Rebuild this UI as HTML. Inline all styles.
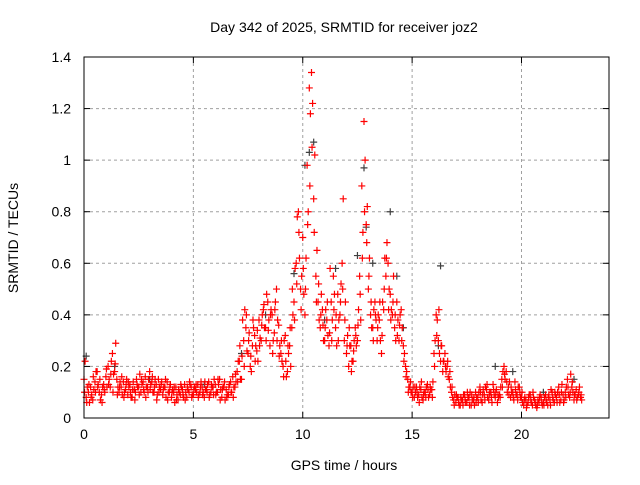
<!DOCTYPE html>
<html><head><meta charset="utf-8"><style>
body{margin:0;background:#fff;font-family:"Liberation Sans",sans-serif;}
svg text{font-family:"Liberation Sans",sans-serif;font-size:14px;fill:#000;}
</style></head><body>
<svg id="c" width="640" height="480">
<rect width="640" height="480" fill="#fff"/>
<text x="344" y="32" text-anchor="middle">Day 342 of 2025, SRMTID for receiver joz2</text>
<text x="344" y="470" text-anchor="middle">GPS time / hours</text>
<text transform="translate(18,238) rotate(-90)" text-anchor="middle">SRMTID / TECUs</text>
<g id="grid"></g><g id="marks"></g><g id="axes"></g>
</svg>
<script>
const xTicks=[0,5,10,15,20];
const yTicks=[0,0.2,0.4,0.6,0.8,1,1.2,1.4];
const yTickLabels=["0","0.2","0.4","0.6","0.8","1","1.2","1.4"];
const xStart=0, xStep=0.1;
const redA=[0.15,0.08,0.10,0.12,0.07,0.14,0.18,0.10,0.09,0.13,
0.16,0.20,0.12,0.25,0.18,0.15,0.10,0.12,0.14,0.11,
0.09,0.13,0.08,0.11,0.15,0.12,0.10,0.14,0.16,0.12,
0.18,0.14,0.10,0.13,0.15,0.11,0.09,0.12,0.14,0.10,
0.08,0.10,0.12,0.07,0.09,0.11,0.13,0.08,0.10,0.12,
0.09,0.11,0.13,0.10,0.12,0.08,0.11,0.14,0.10,0.12,
0.13,0.10,0.15,0.08,0.12,0.11,0.09,0.14,0.16,0.12,
0.18,0.22,0.15,0.30,0.35,0.25,0.20,0.28,0.32,0.26,
0.38,0.30,0.42,0.35,0.45,0.28,0.40,0.33,0.50,0.36,
0.25,0.20,0.32,0.18,0.28,0.35,0.45,0.60,0.80,0.50,
0.70,0.40,0.98,1.28,1.34,0.85,0.55,0.45,0.35,0.42,
0.30,0.38,0.28,0.45,0.55,0.35,0.48,0.40,0.60,0.30,
0.25,0.20,0.28,0.22,0.35,0.30,0.55,0.90,1.15,0.75,
0.50,0.40,0.35,0.45,0.30,0.38,0.25,0.42,0.55,0.60,
0.48,0.40,0.35,0.45,0.30,0.42,0.28,0.20,0.15,0.12,
0.10,0.08,0.12,0.09,0.11,0.07,0.10,0.13,0.09,0.11,
0.25,0.40,0.30,0.22,0.18,0.25,0.20,0.15,0.10,0.07,
0.06,0.08,0.05,0.07,0.09,0.06,0.08,0.05,0.07,0.10,
0.08,0.12,0.06,0.09,0.11,0.07,0.10,0.13,0.08,0.06,
0.09,0.15,0.20,0.18,0.12,0.08,0.10,0.14,0.09,0.12,
0.08,0.05,0.07,0.06,0.09,0.05,0.07,0.04,0.06,0.08,
0.06,0.09,0.05,0.07,0.10,0.06,0.08,0.12,0.07,0.09,
0.10,0.15,0.08,0.12,0.07,0.11,0.09,0.08];
const redB=[0.22,0.12,0.06,0.09,0.11,0.18,0.13,0.07,0.12,0.10,
0.12,0.15,0.22,0.17,0.29,0.12,0.14,0.09,0.10,0.15,
0.12,0.08,0.14,0.10,0.12,0.17,0.13,0.10,0.12,0.15,
0.13,0.10,0.15,0.09,0.12,0.14,0.12,0.08,0.10,0.13,
0.11,0.06,0.09,0.10,0.12,0.08,0.10,0.11,0.13,0.09,
0.12,0.10,0.09,0.14,0.10,0.11,0.13,0.09,0.12,0.15,
0.10,0.13,0.11,0.12,0.07,0.09,0.13,0.10,0.12,0.14,
0.22,0.15,0.38,0.42,0.26,0.33,0.18,0.35,0.28,0.22,
0.31,0.40,0.35,0.48,0.38,0.42,0.30,0.45,0.38,0.28,
0.22,0.30,0.16,0.25,0.20,0.40,0.58,0.78,0.62,0.55,
0.48,0.62,0.80,1.18,1.22,1.02,0.65,0.38,0.48,0.30,
0.42,0.32,0.58,0.38,0.48,0.28,0.38,0.52,0.85,0.45,
0.32,0.28,0.22,0.30,0.28,0.42,0.38,0.72,1.00,0.82,
0.62,0.35,0.42,0.38,0.40,0.30,0.45,0.62,0.68,0.50,
0.42,0.55,0.30,0.38,0.40,0.35,0.25,0.18,0.12,0.10,
0.12,0.10,0.08,0.12,0.08,0.10,0.12,0.08,0.11,0.14,
0.30,0.38,0.25,0.28,0.22,0.18,0.16,0.12,0.08,0.09,
0.08,0.05,0.07,0.09,0.06,0.08,0.10,0.07,0.05,0.08,
0.10,0.07,0.11,0.12,0.08,0.10,0.06,0.09,0.11,0.08,
0.12,0.18,0.15,0.10,0.14,0.10,0.07,0.09,0.12,0.08,
0.06,0.08,0.05,0.09,0.06,0.08,0.05,0.07,0.09,0.05,
0.08,0.06,0.09,0.11,0.07,0.09,0.10,0.06,0.13,0.07,
0.12,0.09,0.17,0.10,0.09,0.08,0.12,0.07];
const redC=[0.10,0.06,0.13,0.08,0.16,0.10,0.12,0.15,0.06,0.11,
0.19,0.13,0.17,0.10,0.21,0.09,0.12,0.16,0.08,0.13,
0.14,0.10,0.11,0.07,0.13,0.09,0.15,0.11,0.08,0.10,
0.11,0.16,0.12,0.07,0.10,0.13,0.11,0.15,0.07,0.12,
0.10,0.12,0.07,0.11,0.13,0.09,0.07,0.12,0.14,0.08,
0.11,0.13,0.08,0.12,0.09,0.14,0.10,0.08,0.13,0.09,
0.09,0.15,0.07,0.11,0.14,0.08,0.12,0.10,0.08,0.17,
0.14,0.28,0.24,0.20,0.40,0.30,0.24,0.38,0.22,0.34,
0.28,0.36,0.44,0.30,0.34,0.40,0.25,0.42,0.30,0.24,
0.30,0.16,0.22,0.28,0.35,0.50,0.38,0.52,0.72,0.42,
0.58,0.50,0.75,0.90,1.05,0.72,0.45,0.52,0.40,0.36,
0.35,0.45,0.33,0.30,0.42,0.40,0.30,0.45,0.50,0.38,
0.28,0.35,0.18,0.26,0.32,0.36,0.48,0.62,0.80,0.68,
0.55,0.45,0.30,0.40,0.35,0.45,0.32,0.50,0.62,0.42,
0.38,0.45,0.40,0.32,0.36,0.30,0.22,0.16,0.10,0.14,
0.08,0.12,0.10,0.06,0.14,0.09,0.08,0.11,0.12,0.08,
0.20,0.32,0.42,0.28,0.22,0.20,0.22,0.18,0.12,0.05,
0.09,0.06,0.08,0.05,0.07,0.10,0.05,0.09,0.08,0.06,
0.06,0.10,0.09,0.07,0.13,0.09,0.08,0.11,0.10,0.09,
0.08,0.12,0.17,0.14,0.09,0.12,0.08,0.11,0.07,0.10,
0.10,0.07,0.04,0.08,0.07,0.10,0.06,0.05,0.08,0.06,
0.05,0.07,0.08,0.05,0.08,0.10,0.06,0.09,0.10,0.06,
0.08,0.12,0.10,0.14,0.09,0.07,0.10,0.09];
const grayX=[0.1,1.4,3.0,5.5,7.2,8.3,9.6,10.1,10.3,10.5,11.0,11.5,12.5,12.8,12.9,13.2,14.0,14.3,14.6,16.3,16.2,18.8,19.6,21.0,22.4];
const grayY=[0.24,0.20,0.15,0.13,0.25,0.40,0.56,0.98,1.03,1.07,0.38,0.58,0.63,0.97,0.74,0.60,0.80,0.55,0.35,0.59,0.28,0.20,0.18,0.10,0.15];
const L=84,R=609,T=57,B=418,XMAX=24,YMAX=1.4;
const xs=v=>L+v/XMAX*(R-L), ys=v=>B-v/YMAX*(B-T);
const NS="http://www.w3.org/2000/svg";
function mk(p,tag,a){const e=document.createElementNS(NS,tag);for(const k in a)e.setAttribute(k,a[k]);p.appendChild(e);return e;}
const grid=document.getElementById('grid'),marks=document.getElementById('marks'),axes=document.getElementById('axes');
xTicks.forEach(t=>{const x=xs(t);
 if(t>0){const g=mk(grid,'line',{x1:x,x2:x,y1:T,y2:B,stroke:'#a0a0a0','stroke-dasharray':'3,3'});
 }
 mk(axes,'line',{x1:x,x2:x,y1:B,y2:B-6,stroke:'#000'});mk(axes,'line',{x1:x,x2:x,y1:T,y2:T+6,stroke:'#000'});
 const tx=mk(axes,'text',{x:x,y:B+21,'text-anchor':'middle'});tx.textContent=t;
 });
yTicks.forEach((t,i)=>{const y=ys(t);
 if(t>0&&t<YMAX){const g=mk(grid,'line',{x1:L,x2:R,y1:y,y2:y,stroke:'#a0a0a0','stroke-dasharray':'3,3'});
 }
 mk(axes,'line',{x1:L,x2:L+6,y1:y,y2:y,stroke:'#000'});mk(axes,'line',{x1:R,x2:R-6,y1:y,y2:y,stroke:'#000'});
 const tx=mk(axes,'text',{x:L-13,y:y+5,'text-anchor':'end'});tx.textContent=yTickLabels[i];
 });
const fr=mk(axes,'rect',{x:L,y:T,width:R-L,height:B-T,fill:'none',stroke:'#000'});

function plus(x,y,c,name){const g=mk(marks,'path',{d:`M${x-3.5} ${y}h7M${x} ${y-3.5}v7`,stroke:c,'stroke-width':1.2});
 }
grayX.forEach((v,i)=>plus(xs(v),ys(grayY[i]),'#404040','gray-point'));
redA.forEach((v,i)=>plus(xs(xStart+i*xStep),ys(v),'#ff0000','red-point'));
redB.forEach((v,i)=>plus(xs(xStart+i*xStep+0.05),ys(v),'#ff0000','red-point'));
redC.forEach((v,i)=>plus(xs(xStart+i*xStep+0.025),ys(v),'#ff0000','red-point'));
</script>
</body></html>
